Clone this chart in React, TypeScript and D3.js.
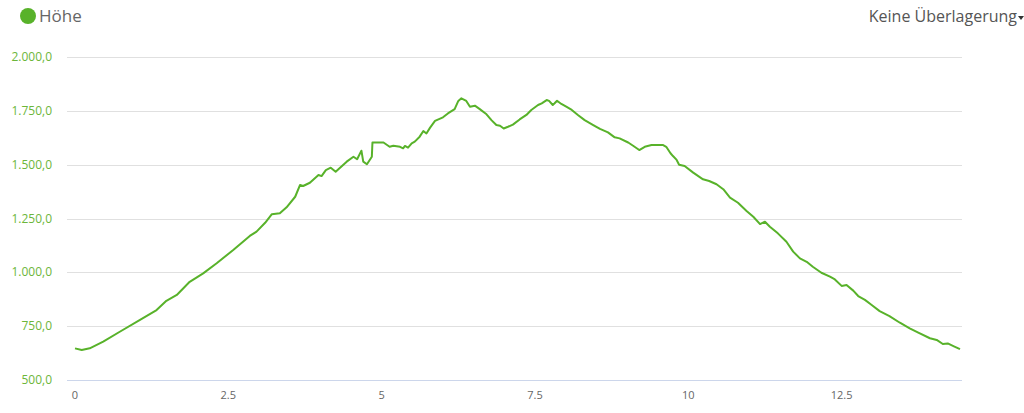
import React from "react";
import * as d3 from "d3";

const distanceKm = [
  0, 0.11, 0.24, 0.46, 0.73, 1.06, 1.33, 1.49, 1.66, 1.87, 2.09, 2.31, 2.58, 2.85, 2.96, 3.1, 3.21, 3.34,
  3.45, 3.59, 3.67, 3.72, 3.83, 3.97, 4.02, 4.09, 4.17, 4.25, 4.43, 4.54, 4.6, 4.67, 4.7, 4.76, 4.84, 4.85,
  5.03, 5.13, 5.19, 5.3, 5.35, 5.38, 5.43, 5.49, 5.54, 5.62, 5.68, 5.73, 5.79, 5.87, 6.0, 6.08, 6.19, 6.25,
  6.3, 6.38, 6.44, 6.52, 6.6, 6.71, 6.79, 6.87, 6.93, 6.99, 7.06, 7.14, 7.25, 7.36, 7.44, 7.55, 7.61, 7.69,
  7.73, 7.79, 7.82, 7.86, 7.93, 8.01, 8.1, 8.2, 8.31, 8.45, 8.56, 8.69, 8.8, 8.88, 9.02, 9.1, 9.2, 9.29, 9.4,
  9.59, 9.64, 9.71, 9.75, 9.81, 9.85, 9.94, 10.08, 10.24, 10.34, 10.46, 10.57, 10.68, 10.81, 10.95, 11.06,
  11.17, 11.25, 11.33, 11.46, 11.6, 11.71, 11.82, 11.93, 12.03, 12.17, 12.31, 12.39, 12.5, 12.58, 12.69,
  12.77, 12.88, 12.99, 13.12, 13.28, 13.45, 13.61, 13.75, 13.94, 14.05, 14.15, 14.23, 14.34, 14.43,
];

const elevation = [
  647, 639, 647, 678, 724, 779, 825, 868, 895, 956, 995, 1042, 1104, 1169, 1189, 1230, 1270, 1274,
  1302, 1351, 1406, 1401, 1416, 1452, 1447, 1475, 1486, 1467, 1514, 1537, 1525, 1565, 1514, 1502, 1537, 1603,
  1603, 1583, 1588, 1583, 1576, 1587, 1579, 1599, 1607, 1630, 1656, 1645, 1672, 1703, 1720, 1738, 1758, 1796,
  1808, 1796, 1769, 1774, 1758, 1734, 1707, 1684, 1681, 1668, 1676, 1686, 1710, 1731, 1754, 1777, 1785, 1800,
  1796, 1777, 1785, 1797, 1782, 1769, 1754, 1731, 1707, 1684, 1666, 1650, 1627, 1622, 1603, 1588, 1568, 1583, 1591,
  1591, 1583, 1553, 1540, 1522, 1500, 1494, 1463, 1432, 1424, 1409, 1386, 1347, 1323, 1285, 1258,
  1224, 1235, 1212, 1181, 1142, 1096, 1065, 1049, 1026, 998, 980, 967, 937, 941, 915,
  890, 872, 848, 820, 797, 766, 740, 720, 694, 686, 667, 670, 655, 643,
];

const yTicks = [500, 750, 1000, 1250, 1500, 1750, 2000];
const yTickLabels = ["500,0", "750,0", "1.000,0", "1.250,0", "1.500,0", "1.750,0", "2.000,0"];
const xTicks = [0, 2.5, 5, 7.5, 10, 12.5];
const xTickLabels = ["0", "2.5", "5", "7.5", "10", "12.5"];
const seriesName = "Höhe";
const overlayLabel = "Keine Überlagerung";

const W = 1024;
const H = 413;
const plotLeft = 67;
const plotRight = 962;
const green = "#58b22a";
const font = "'Open Sans', sans-serif";

export default function App() {
  const x = d3.scaleLinear().domain([0, 14.43]).range([75, 960]);
  const y = d3.scaleLinear().domain([500, 2000]).range([380, 57]);
  const pts = distanceKm.map((d, i) => [d, elevation[i]] as [number, number]);
  const line = d3
    .line<[number, number]>()
    .x((d) => x(d[0]))
    .y((d) => y(d[1]))
    .curve(d3.curveLinear);

  return (
    <svg
      width={W}
      height={H}
      style={{ position: "fixed", left: 0, top: 0, background: "#fff" }}
      fontFamily={font}
    >
      {yTicks.map((t) =>
        t === 500 ? null : (
          <line key={t} x1={plotLeft} x2={plotRight} y1={Math.round(y(t)) + 0.5} y2={Math.round(y(t)) + 0.5} stroke="#e0e0e0" strokeWidth={1} />
        )
      )}
      <line x1={plotLeft} x2={plotRight} y1={Math.round(y(500)) + 0.5} y2={Math.round(y(500)) + 0.5} stroke="#ccd6eb" strokeWidth={1} />
      {yTicks.map((t, i) => (
        <text key={t} x={52} y={y(t) + 4} textAnchor="end" fontSize={12} fill="#6cb63a">
          {yTickLabels[i]}
        </text>
      ))}
      {xTicks.map((t, i) => (
        <text key={t} x={x(t)} y={399} textAnchor="middle" fontSize={11} fill="#666">
          {xTickLabels[i]}
        </text>
      ))}
      <path d={line(pts) || ""} fill="none" stroke={green} strokeWidth={2} strokeLinejoin="round" />
      <circle cx={28} cy={16} r={8} fill={green} />
      <text x={39} y={22} fontSize={17} fill="#666">
        {seriesName}
      </text>
      <text x={1017} y={21.5} fontSize={16} fill="#555" textAnchor="end">
        {overlayLabel}
      </text>
      <path d="M1018,16 L1024,16 L1021,20 Z" fill="#333" />
    </svg>
  );
}
